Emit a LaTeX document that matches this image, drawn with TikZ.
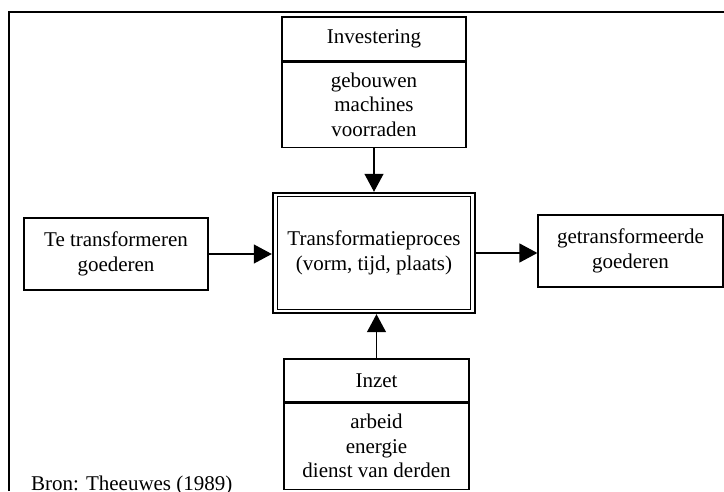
\documentclass[tikz,border=0pt]{standalone}
\usepackage{fontspec}
\setmainfont{Liberation Serif}
\usetikzlibrary{positioning, arrows.meta, shapes}
\tikzset{
  box/.style={draw, line width=1.2pt, align=center, inner sep=0pt,
    font=\fontsize{21}{24.5}\selectfont},
  arr/.style={line width=1.2pt, -{Triangle[length=18pt,width=19pt]}},
}

\begin{document}
\begin{tikzpicture}[x=1pt, y=-1pt, line join=miter]
	\useasboundingbox (0,0) rectangle (724,491);
	% kader
	\draw[line width=1.5pt] (9,491) -- (9,12) -- (724,12);

	\node[box, minimum width=184pt, minimum height=44pt] (invest) at (374,39) {Investering};
	\node[box, minimum width=184pt, minimum height=85pt, below=0pt of invest] (investbody)
	  {gebouwen\\machines\\voorraden};

	\node[box, line width=2.4pt, minimum width=202pt, minimum height=120pt] (proces) at (374,253)
	  {Transformatieproces\\(vorm, tijd, plaats)};
	\draw[line width=1pt] ([shift={(6pt,-5pt)}]proces.north west) rectangle ([shift={(-6pt,5pt)}]proces.south east);

	\node[box, minimum width=184pt, minimum height=72pt] (input) at (116,254) {Te transformeren\\goederen};
	\node[box, minimum width=185pt, minimum height=72pt] (output) at (630.5,251) {getransformeerde\\goederen};

	\node[box, minimum width=185pt, minimum height=43pt] (inzet) at (376.5,380.5) {Inzet};
	\node[box, minimum width=185pt, minimum height=86pt, below=0pt of inzet] (inzetbody)
	  {arbeid\\energie\\dienst van derden};

	\node[anchor=base west, inner sep=0pt, font=\fontsize{21}{24}\selectfont] (bron) at (31,490) {Bron: Theeuwes (1989)};

	\draw[arr] (investbody) -- (proces);
	\draw[arr] (input.east) -- (input.east -| proces.west);
	\draw[arr] (proces.east) -- (proces.east -| output.west);
	\draw[arr] (inzet.north) -- (inzet.north |- proces.south);
\end{tikzpicture}
\end{document}
